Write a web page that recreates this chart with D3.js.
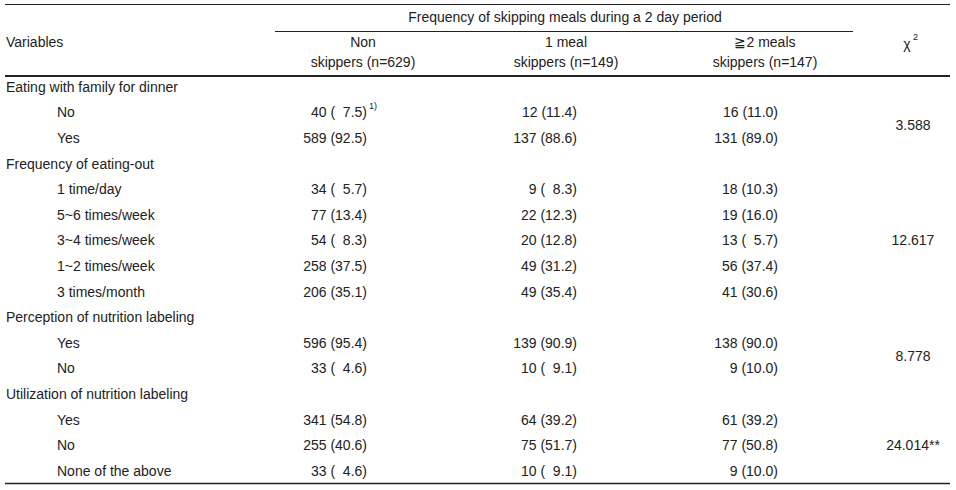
<!DOCTYPE html><html><head><meta charset="utf-8"><script src="https://d3js.org/d3.v7.min.js"></script>
<style>body{margin:0;background:#fff}text{font-family:"Liberation Sans",Arial,sans-serif;font-size:14px;fill:#222}</style></head><body>
<script>
const groups=["Eating with family for dinner","Frequency of eating-out","Perception of nutrition labeling","Utilization of nutrition labeling"];
const rowLabels=[["No","Yes"],["1 time/day","5~6 times/week","3~4 times/week","1~2 times/week","3 times/month"],["Yes","No"],["Yes","No","None of the above"]];
const nonN=[[40,589],[34,77,54,258,206],[596,33],[341,255,33]];
const nonP=[[7.5,92.5],[5.7,13.4,8.3,37.5,35.1],[95.4,4.6],[54.8,40.6,4.6]];
const oneN=[[12,137],[9,22,20,49,49],[139,10],[64,75,10]];
const oneP=[[11.4,88.6],[8.3,12.3,12.8,31.2,35.4],[90.9,9.1],[39.2,51.7,9.1]];
const twoN=[[16,131],[18,19,13,56,41],[138,9],[61,77,9]];
const twoP=[[11.0,89.0],[10.3,16.0,5.7,37.4,30.6],[90.0,10.0],[39.2,50.8,10.0]];
const chi=["3.588","12.617","8.778","24.014**"];
const colHeads=[["Non","skippers (n=629)"],["1 meal","skippers (n=149)"],["\u22672 meals","skippers (n=147)"]];

const svg=d3.select("body").append("svg").attr("width",956).attr("height",490);
const line=(x1,x2,y,w)=>svg.append("line").attr("x1",x1).attr("x2",x2).attr("y1",y).attr("y2",y).attr("stroke","#222").attr("stroke-width",w);
line(5,950,4.5,1.2);line(275,853,31.5,1);line(5,950,76,2.2);line(5,950,483.5,1.5);
const T=(x,y,s,a)=>svg.append("text").attr("x",x).attr("y",y).attr("text-anchor",a||"start").attr("dominant-baseline","middle").text(s);
T(565,18,"Frequency of skipping meals during a 2 day period","middle");
T(6,43,"Variables");
const colC=[363,566,765];
colHeads.forEach((h,i)=>{T(colC[i],43,h[0],"middle");T(colC[i],63,h[1],"middle");});
T(907,45,"\u03c7","middle");
svg.append("text").attr("x",913).attr("y",40).style("font-size","9px").text("2");
const fmt=p=>{const s=p.toFixed(1);return "("+(p<10?"\u2007":"")+s+")";};
const rights=[367,577,778];
let y=88;
groups.forEach((g,gi)=>{
  T(6,y,g); y+=25.6;
  const ys=[];
  rowLabels[gi].forEach((r,ri)=>{
    T(57,y,r);
    [[nonN,nonP],[oneN,oneP],[twoN,twoP]].forEach(([N,P],ci)=>{
      T(rights[ci],y,N[gi][ri]+" "+fmt(P[gi][ri]),"end");
    });
    if(gi==0&&ri==0) svg.append("text").attr("x",369).attr("y",y-5).style("font-size","9px").text("1)");
    ys.push(y); y+=25.6;
  });
  T(913,d3.mean(ys)+(ys.length%2?-12.5:0)+(gi==3?12.5:0)+(gi==1?12.5:0),chi[gi],"middle");
});
</script></body></html>
